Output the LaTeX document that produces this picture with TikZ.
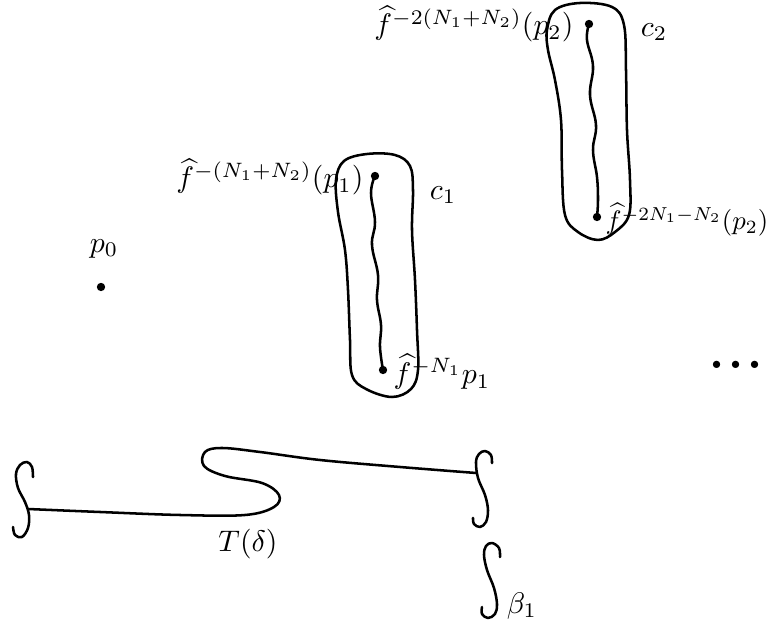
\documentclass[tikz,border=0pt]{standalone}
\usepackage{amsmath}
\begin{document}
\begin{tikzpicture}[x=0.336pt,y=-0.336pt,
  curve/.style={line width=0.85pt,line cap=round,line join=round},
  dot/.style={circle,fill=black,inner sep=0pt,minimum size=2.8pt},
  lbl/.style={inner sep=0pt}]
\useasboundingbox (0,0) rectangle (769,635);

% p0
\node[dot] (p0) at (101,287) {};
\node[lbl] (p0l) at (104,249) {$p_0$};

% c1 blob
\draw[curve] plot[smooth cycle,tension=0.6] coordinates {
 (336,180) (344,161) (367,154) (395,155) (410,166) (413,190) (412,230)
 (415,280) (417,330) (418,370) (411,389) (392,397) (366,389) (352,375)
 (350,340) (348,290) (345,250) (338,212)};
\node[dot] (a1) at (375,176) {};
\node[dot] (a2) at (383,370) {};
\draw[curve] plot[smooth,tension=0.7] coordinates {
 (a1) (371,193) (375,222) (372,245) (378,275) (377,300) (381,325) (380,347) (a2)};
\node[lbl,anchor=east] (a1l) at (364,177) {$\widehat{f}^{-(N_1+N_2)}(p_1)$};
\node[lbl,anchor=west] (a2l) at (393,372) {$\widehat{f}^{-N_1}p_1$};
\node[lbl] (c1) at (443,195) {$c_1$};

% c2 blob
\draw[curve] plot[smooth cycle,tension=0.6] coordinates {
 (547,30) (555,10) (580,3) (612,7) (624,25) (626,70) (627,130) (630,180)
 (629,215) (615,232) (598,240) (578,232) (565,215) (562,170) (561,120)
 (555,80) (548,50)};
\node[dot] (b1) at (589,24) {};
\node[dot] (b2) at (597,217) {};
\draw[curve] plot[smooth,tension=0.7] coordinates {
 (b1) (587,40) (593,66) (590,95) (596,125) (593,150) (597,177) (598,200) (b2)};
\node[lbl,anchor=east] (b1l) at (574,24) {$\widehat{f}^{-2(N_1+N_2)}(p_2)$};
\node[lbl,anchor=west,scale=0.9] (b2l) at (605,220) {$\widehat{f}^{-2N_1-N_2}(p_2)$};
\node[lbl] (c2) at (654,32) {$c_2$};

% dots
\node[lbl,scale=2.3] (dd) at (736,365) {...};

% left integral
\draw[curve] plot[smooth,tension=0.6] coordinates {
 (33,477) (32,467) (27,462) (20,465) (16,474) (18,488) (25,502) (29,515)
 (28,528) (22,537) (15,535) (13,527)};
% right integral
\draw[curve] plot[smooth,tension=0.6] coordinates {
 (492,463) (491,455) (485,451) (479,454) (476,462) (478,478) (485,495)
 (488,510) (486,522) (480,527) (474,524) (473,518)};
% beta integral
\draw[curve] plot[smooth,tension=0.6] coordinates {
 (500,557) (499,548) (492,543) (486,546) (484,555) (487,570) (494,588)
 (497,604) (495,614) (488,618) (482,614) (482,607)};
\node[lbl] (beta) at (522,606) {$\beta_1$};

% T(delta) curve
\coordinate (tl) at (28,509);
\coordinate (tr) at (476,473);
\draw[curve] plot[smooth,tension=0.6] coordinates {
 (tl) (100,512) (180,515) (245,515) (274,507) (279,495) (262,483)
 (225,476) (204,466) (205,452) (222,448) (260,452) (320,460) (400,467) (tr)};
\node[lbl] (Td) at (248,544) {$T(\delta)$};
\end{tikzpicture}
\end{document}
